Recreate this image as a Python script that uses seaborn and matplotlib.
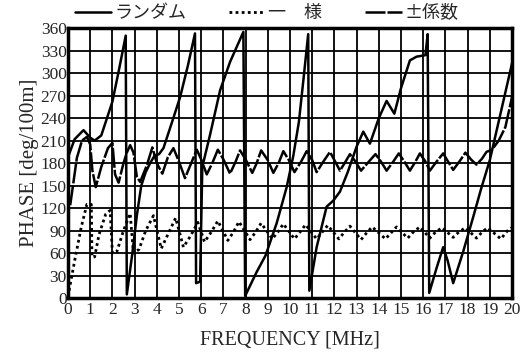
import matplotlib
matplotlib.use("Agg")
import matplotlib.pyplot as plt
import seaborn as sns

# random phase: wraps at 360 deg
rand_f = [0, 0.3, 0.7, 1.0, 1.2, 1.5, 1.8, 2.0, 2.3, 2.6, 2.65, 2.9, 3.1, 3.3, 3.5, 3.7,
          3.9, 4.1, 4.3, 4.7, 5.05, 5.4, 5.72, 5.77, 5.95, 6.05, 6.4, 6.85, 7.3, 7.9, 7.98,
          8.5, 8.9, 9.4, 9.85, 10.15, 10.4, 10.6, 10.82, 10.87, 11.2, 11.65, 11.95, 12.25,
          12.6, 13.0, 13.3, 13.6, 14.0, 14.35, 14.7, 15.0, 15.4, 15.7, 16.1, 16.2, 16.27,
          16.6, 16.9, 17.1, 17.35, 17.8, 18.25, 18.6, 19.0, 19.45, 20.0]
rand_deg = [188, 212, 224, 214, 210, 217, 244, 262, 305, 350, 5, 60, 110, 150, 168, 180,
            190, 192, 200, 236, 268, 310, 353, 20, 22, 175, 218, 277, 315, 355, 3,
            35, 57, 100, 148, 190, 235, 290, 352, 10, 68, 122, 130, 142,
            168, 202, 222, 206, 240, 263, 246, 280, 317, 322, 324, 352, 7,
            40, 68, 50, 20, 62, 108, 145, 184, 242, 313]

# uniform: around 90 deg
uni_f = [0.05, 0.3, 0.6, 0.85, 1.05, 1.08, 1.2, 1.4, 1.7, 1.9, 2.0, 2.2, 2.5, 2.8, 2.95,
         3.2, 3.5, 3.85, 4.2, 4.5, 4.85, 5.2, 5.5, 5.85, 6.15, 6.45, 6.75, 7.2, 7.45, 7.7,
         8.2, 8.45, 8.7, 9.2, 9.45, 9.7, 10.2, 10.45, 10.7, 11.2, 11.45, 11.7, 12.2, 12.45,
         12.7, 13.2, 13.45, 13.7, 14.3, 14.55, 14.8, 15.3, 15.55, 15.85, 16.3, 16.55, 16.85,
         17.35, 17.6, 17.9, 18.4, 18.65, 18.9, 19.5, 19.8, 20.0]
uni_deg = [10, 50, 95, 125, 125, 55, 55, 85, 112, 117, 60, 62, 90, 113, 60,
           65, 90, 110, 66, 85, 107, 68, 82, 101, 75, 88, 103, 77, 88, 102,
           78, 88, 100, 79, 88, 99, 79, 88, 98, 79, 88, 97, 79, 88,
           96, 78, 87, 95, 79, 87, 95, 80, 88, 95, 80, 88, 94,
           81, 88, 94, 80, 88, 94, 79, 90, 94]

# +/- coefficients: around 180 deg
pm_f = [0.1, 0.4, 0.63, 0.85, 1.0, 1.1, 1.25, 1.5, 1.8, 2.0, 2.12, 2.28, 2.5, 2.65, 2.8,
        2.95, 3.1, 3.25, 3.55, 3.8, 4.0, 4.25, 4.5, 4.75, 5.0, 5.27, 5.55, 5.8, 6.0, 6.25,
        6.5, 6.75, 7.0, 7.3, 7.55, 7.75, 8.0, 8.3, 8.5, 8.7, 9.0, 9.25, 9.5, 9.7, 9.95,
        10.2, 10.5, 10.75, 11.0, 11.2, 11.5, 11.8, 12.0, 12.25, 12.5, 12.7, 12.95, 13.2,
        13.55, 13.85, 14.1, 14.35, 14.65, 14.9, 15.15, 15.4, 15.65, 15.85, 16.1, 16.3,
        16.6, 16.9, 17.1, 17.35, 17.65, 17.9, 18.15, 18.4, 18.65, 18.85, 19.1, 19.4,
        19.7, 20.0]
pm_deg = [124, 187, 210, 215, 205, 170, 148, 175, 200, 207, 165, 154, 180, 194, 204,
          194, 162, 155, 177, 201, 180, 166, 188, 200, 182, 160, 180, 198, 185, 165,
          180, 198, 185, 166, 182, 197, 185, 167, 180, 197, 184, 167, 181, 196, 184,
          168, 182, 196, 184, 168, 182, 195, 184, 170, 182, 192, 182, 170,
          182, 192, 182, 170, 182, 193, 182, 170, 182, 193, 182, 170,
          182, 193, 183, 171, 183, 194, 185, 178, 186, 195, 198, 210,
          228, 268]

sns.set_style("white")
plt.rcParams['font.family'] = ['Liberation Serif', 'Noto Sans CJK JP']

fig = plt.figure(figsize=(5.23, 3.52), dpi=100)
ax = fig.add_axes([0.130, 0.153, 0.849, 0.767])

sns.lineplot(x=rand_f, y=rand_deg, sort=False, estimator=None, color='black',
             lw=1.8, label='ランダム', ax=ax)
sns.lineplot(x=uni_f, y=uni_deg, sort=False, estimator=None, color='black',
             lw=2.0, ls=(0, (1, 1.2)), label='一　様', ax=ax)
sns.lineplot(x=pm_f, y=pm_deg, sort=False, estimator=None, color='black',
             lw=1.8, ls=(0, (8, 0.8)), label='±係数', ax=ax)

ax.set_xlim(0, 20)
ax.set_ylim(0, 360)
ax.set_xticks(range(0, 21))
ax.set_yticks(range(0, 361, 30))
ax.tick_params(axis='both', length=0, pad=1, labelsize=12.5)
ax.tick_params(axis='x', pad=3)
ax.grid(True, color='black', lw=1.3)
for s in ax.spines.values():
    s.set_color('black')
    s.set_linewidth(2.5)

ax.set_xlabel('FREQUENCY [MHz]', fontsize=14.5, labelpad=9)
ax.set_ylabel('PHASE [deg/100m]', fontsize=15, labelpad=1)

handles, labels = ax.get_legend_handles_labels()
ax.get_legend().remove()
fig.legend(handles, labels, loc='center', bbox_to_anchor=(0.51, 0.962), ncol=3,
           frameon=False, handlelength=2.0, handletextpad=0.15, columnspacing=2.4,
           prop={'family': ['Noto Sans CJK JP'], 'size': 13})

fig.savefig('out.png', dpi=100)
